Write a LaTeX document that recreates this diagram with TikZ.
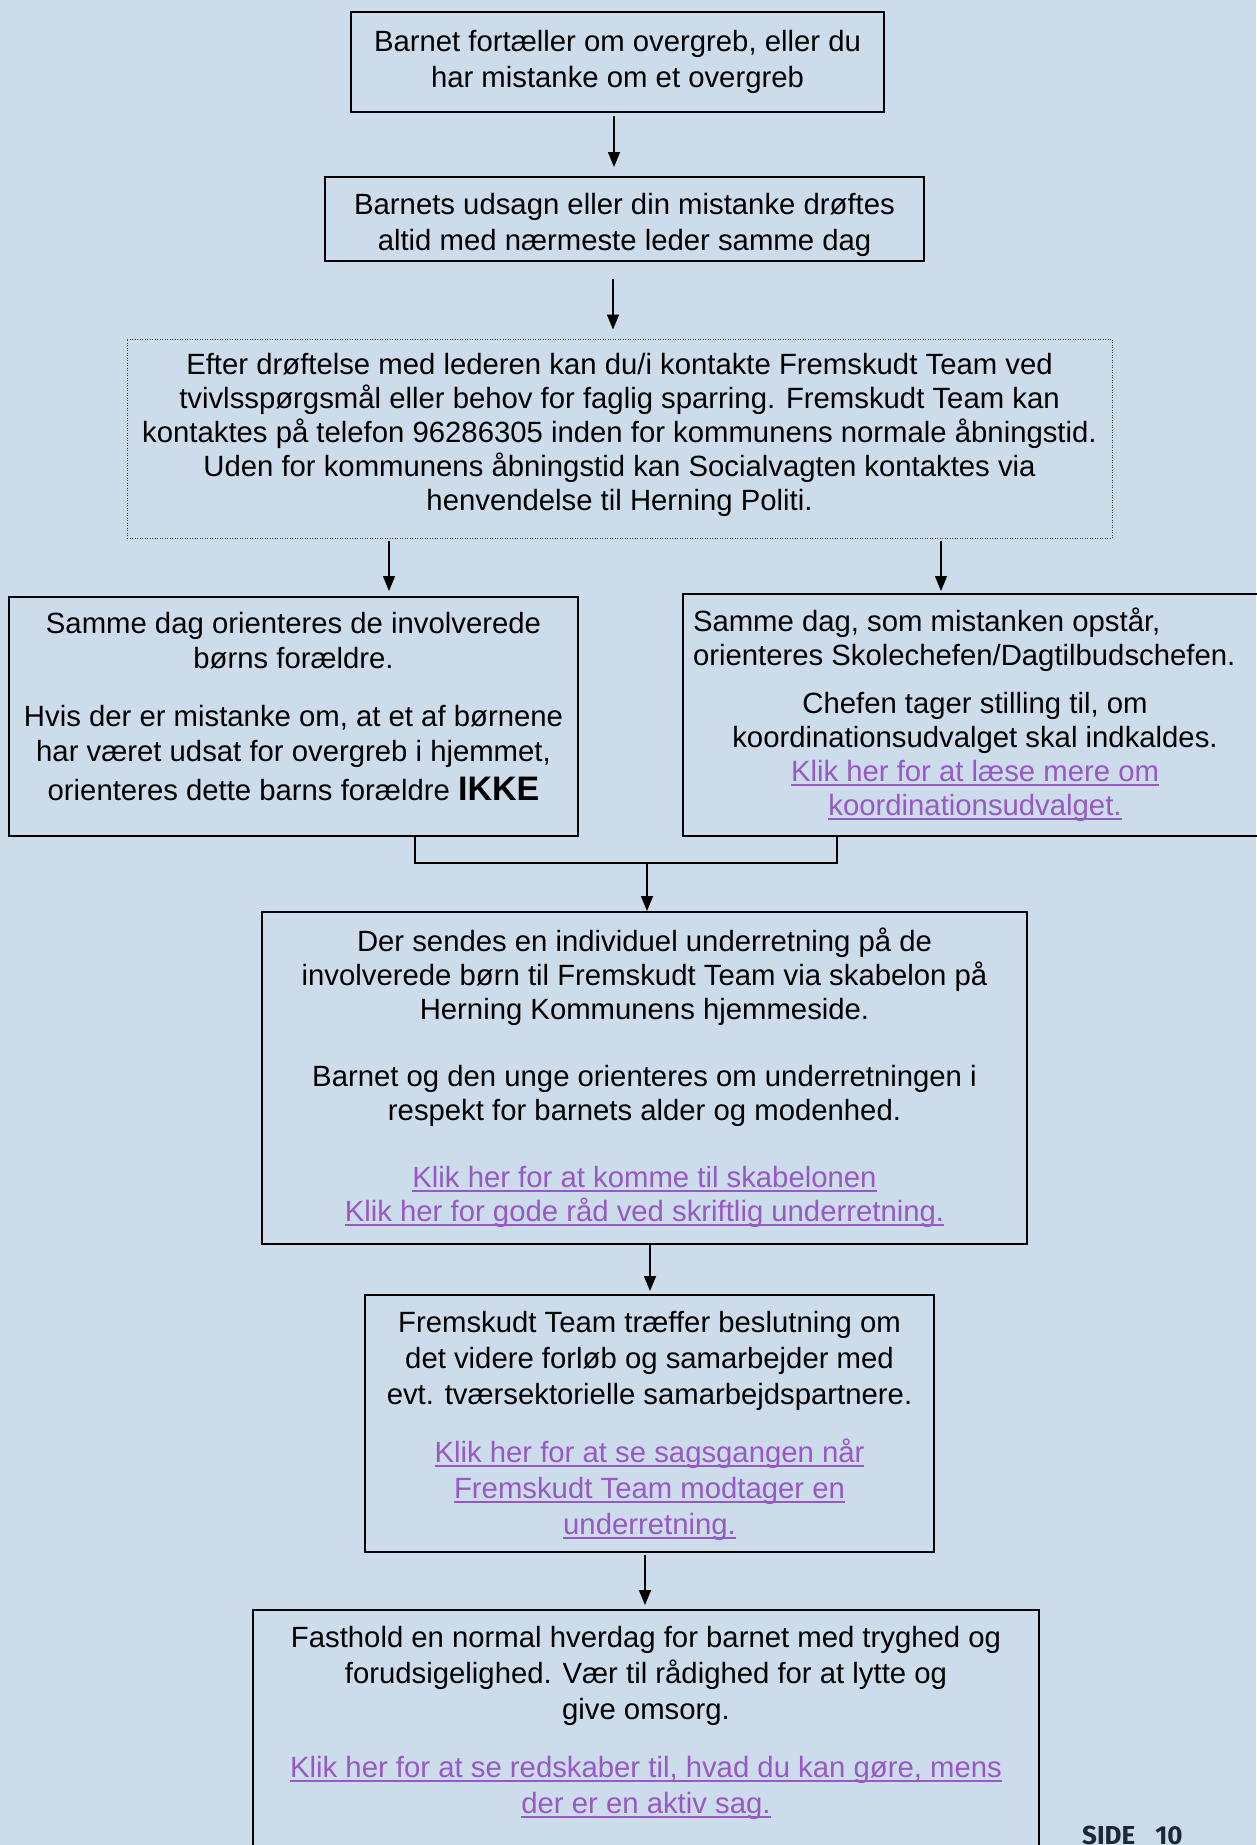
\documentclass[tikz,border=0pt]{standalone}
\usepackage{fontspec}
\setmainfont{Liberation Sans}
\newfontfamily\pagefont{Fira Sans}
\usetikzlibrary{arrows.meta}

\definecolor{pagebg}{RGB}{204,220,234}
\definecolor{linkc}{RGB}{152,88,200}
\definecolor{pagenum}{RGB}{28,40,58}

% underlined link text
\newcommand{\lnk}[1]{\textcolor{linkc}{\setbox0=\hbox{#1}\rlap{\rule[-4.5pt]{\wd0}{2pt}}\box0}}

\begin{document}
\begin{tikzpicture}[
                x=1pt, y=-1pt,
                box/.style={draw, line width=2pt, align=center, inner sep=0pt,
                    font=\fontsize{29.3}{35}\selectfont},
                dotbox/.style={box, line width=1pt, draw=black!75, dash pattern=on 1pt off 1.5pt},
                arr/.style={line width=1.5pt, -{Triangle[length=15pt,width=12pt]}},
                mergeline/.style={line width=1.5pt}
            ]
            \fill[pagebg] (0,0) rectangle (1256,1845);
            \useasboundingbox (0,0) rectangle (1256,1845);

            \node[box, minimum width=533pt, minimum height=100pt,
                font=\fontsize{29.3}{36.5}\selectfont] (b1) at (617.5,62)
            {Barnet fortæller om overgreb, eller du\\
            har mistanke om et overgreb};

            \node[box, minimum width=599pt, minimum height=84pt,
                font=\fontsize{29.3}{36}\selectfont] (b2) at (624.5,219)
            {\rule{0pt}{33.5pt}Barnets udsagn eller din mistanke drøftes\\
            altid med nærmeste leder samme dag};

            \node[dotbox, minimum width=985pt, minimum height=199pt,
                font=\fontsize{29.3}{34}\selectfont] (b3) at (619.5,438.5)
            {Efter drøftelse med lederen kan du/i kontakte Fremskudt Team ved\\
            tvivlsspørgsmål eller behov for faglig sparring. Fremskudt Team kan\\
            kontaktes på telefon 96286305 inden for kommunens normale åbningstid.\\
            Uden for kommunens åbningstid kan Socialvagten kontaktes via\\
            henvendelse til Herning Politi.\rule[-14pt]{0pt}{0pt}};

            \node[box, minimum width=569pt, minimum height=239pt] (bL) at (293.5,716.5)
            {Samme dag orienteres de involverede\\
            børns forældre.\\[23pt]
            Hvis der er mistanke om, at et af børnene\\
            har været udsat for overgreb i hjemmet,\\[4pt]
            orienteres dette barns forældre {\bfseries\fontsize{34}{35}\selectfont IKKE}\rule[-20pt]{0pt}{0pt}};

            \node[box, minimum width=584pt, minimum height=242pt,
                font=\fontsize{29.3}{34}\selectfont] (bR) at (975,715)
            {\makebox[564pt][l]{Samme dag, som mistanken opstår,}\\
            \makebox[564pt][l]{orienteres Skolechefen/Dagtilbudschefen.}\\[14pt]
            Chefen tager stilling til, om\\
            koordinationsudvalget skal indkaldes.\\
            \lnk{Klik her for at læse mere om}\\
            \lnk{koordinationsudvalget.}};

            \node[box, minimum width=765pt, minimum height=332pt,
                font=\fontsize{29.3}{33.7}\selectfont] (b4) at (644.5,1078)
            {Der sendes en individuel underretning på de\\
            involverede børn til Fremskudt Team via skabelon på\\
            Herning Kommunens hjemmeside.\\[33.7pt]
            Barnet og den unge orienteres om underretningen i\\
            respekt for barnets alder og modenhed.\\[33.7pt]
            \lnk{Klik her for at komme til skabelonen}\\
            \lnk{Klik her for gode råd ved skriftlig underretning.}};

            \node[box, minimum width=569pt, minimum height=257pt,
                font=\fontsize{29.3}{36}\selectfont] (b5) at (649.5,1423.5)
            {\rule{0pt}{26.5pt}Fremskudt Team træffer beslutning om\\
            det videre forløb og samarbejder med\\
            evt. tværsektorielle samarbejdspartnere.\\[22pt]
            \lnk{Klik her for at se sagsgangen når}\\
            \lnk{Fremskudt Team modtager en}\\
            \lnk{underretning.}};

            % bottom box runs off the page
            \node[box, anchor=north, minimum width=786pt, inner ysep=16.5pt, text depth=260pt,
                font=\fontsize{29.3}{36}\selectfont] (b6) at (646,1609)
            {Fasthold en normal hverdag for barnet med tryghed og\\
            forudsigelighed. Vær til rådighed for at lytte og\\
            give omsorg.\\[22pt]
            \lnk{Klik her for at se redskaber til, hvad du kan gøre, mens}\\
            \lnk{der er en aktiv sag.}};

            \node[anchor=base west, inner sep=0pt, text=pagenum,
                font=\pagefont\bfseries\fontsize{26}{26}\selectfont] (side) at (1082,1844)
            {SIDE\hspace{20pt}10};

            % connectors
            \draw[arr] ([xshift=-3.5pt,yshift=-3pt]b1.south) -- ([xshift=-10.5pt,yshift=9pt]b2.north);
            \draw[arr] ([xshift=-11.5pt,yshift=-17pt]b2.south) -- ([xshift=-6.5pt,yshift=9pt]b3.north);
            \draw[arr] ([xshift=-230.5pt,yshift=-2pt]b3.south) -- ([xshift=95.5pt,yshift=5pt]bL.north);
            \draw[arr] ([xshift=321.5pt,yshift=-2pt]b3.south) -- ([xshift=-34pt,yshift=2pt]bR.north);
            \coordinate (mrg) at (647,863);
            \draw[mergeline] ([xshift=121.5pt]bL.south) |- (mrg) -| ([xshift=-138pt]bR.south);
            \draw[arr] (mrg) -- (mrg |- b4.north);
            \draw[arr] ([xshift=5.5pt]b4.south) -- ([xshift=0.5pt,yshift=3pt]b5.north);
            \draw[arr] ([xshift=-4.5pt,yshift=-2pt]b5.south) -- ([xshift=-1pt,yshift=4pt]b6.north);
        \end{tikzpicture}
\end{document}
